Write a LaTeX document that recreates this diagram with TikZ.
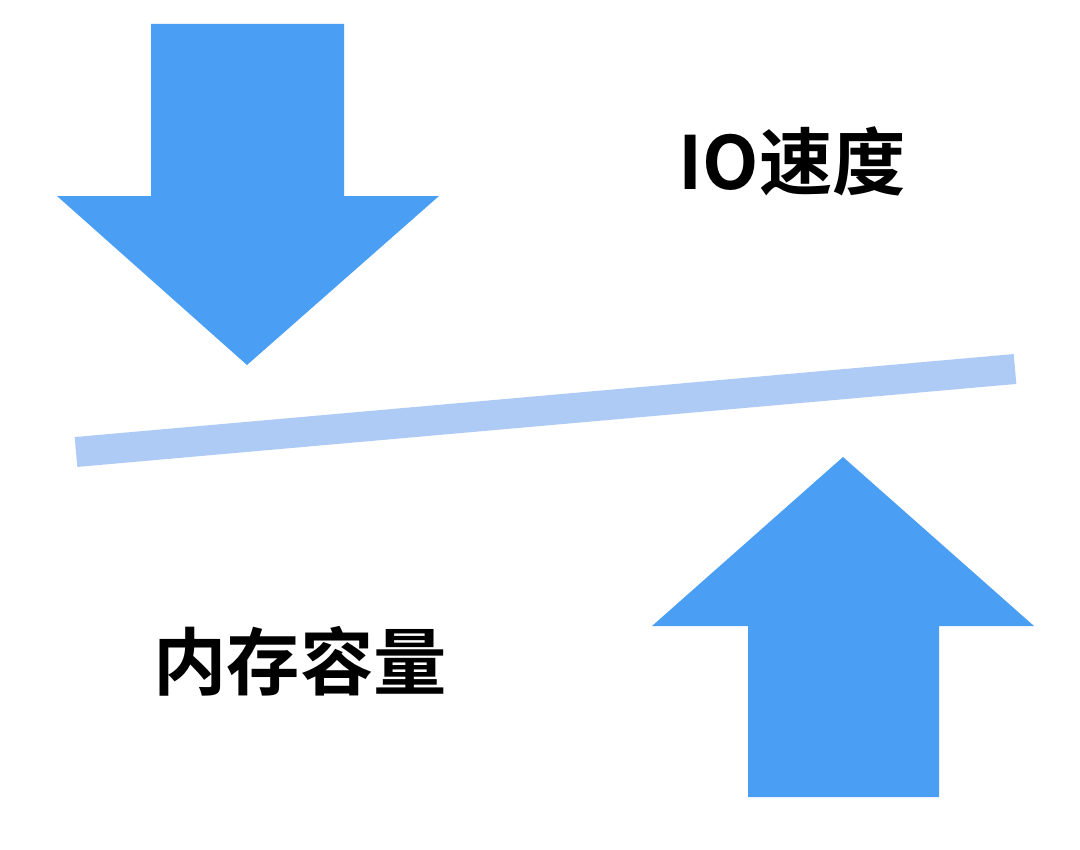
\documentclass[tikz,border=0pt]{standalone}
\usepackage{fontspec}
\newfontfamily\cjkbold{Noto Sans CJK SC Bold}
\usetikzlibrary{positioning}
\definecolor{arrowblue}{RGB}{74,159,245}
\definecolor{barblue}{RGB}{174,203,246}
\tikzset{
  bigarrow/.style={fill=arrowblue, draw=none},
  bar/.style={draw=barblue, line width=22.5pt, line cap=butt},
  label/.style={font=\cjkbold\fontsize{55}{60}\selectfont, text=black, inner sep=0pt},
}

\begin{document}
\begin{tikzpicture}[x=0.75pt, y=-0.75pt]
\useasboundingbox[fill=white] (0,0) rectangle (1080,849);

% arrow pointing down
\fill[bigarrow]
(151,24) -- (344,24) -- (344,196) -- (439,196)
-- (247,365) -- (57,196) -- (151,196) -- cycle;

% arrow pointing up
\fill[bigarrow]
(748,797) -- (939,797) -- (939,626) -- (1034,626)
-- (843,457) -- (652,626) -- (748,626) -- cycle;

% tilted bar
\coordinate (barL) at (76,452);
\coordinate (barR) at (1015,369);
\draw[bar] (barL) -- (barR);

\node[label] (io) at (792,161) {IO速度};
\node[label] (mem) at (300,661) {内存容量};
\end{tikzpicture}
\end{document}
